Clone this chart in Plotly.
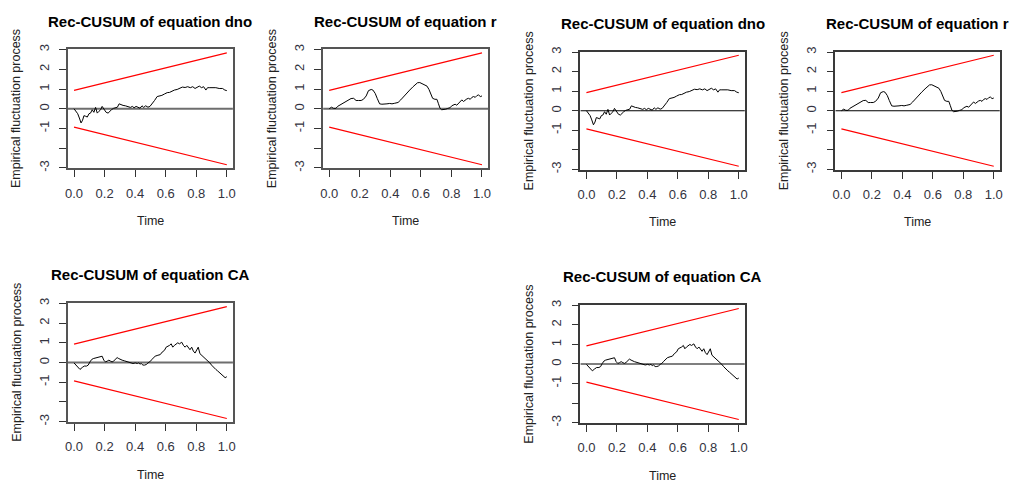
import plotly.graph_objects as go

W, H = 1011, 487

# ---------------- data ----------------
t_dno = [0.0, 0.013, 0.024, 0.035, 0.046, 0.056, 0.065, 0.076, 0.087, 0.098, 0.108, 0.119,
         0.130, 0.141, 0.152, 0.163, 0.174, 0.184, 0.197, 0.210, 0.223, 0.234, 0.245, 0.258,
         0.271, 0.284, 0.295, 0.306, 0.321, 0.336, 0.354, 0.369, 0.382, 0.393, 0.406, 0.419,
         0.432, 0.445, 0.456, 0.469, 0.484, 0.497, 0.510, 0.527, 0.544, 0.560, 0.575, 0.592,
         0.610, 0.625, 0.640, 0.657, 0.675, 0.692, 0.709, 0.727, 0.744, 0.761, 0.777, 0.792,
         0.805, 0.820, 0.835, 0.848, 0.863, 0.874, 0.889, 0.907, 0.928, 0.950, 0.972, 0.987, 1.0]
y_dno = [0.0, -0.13, -0.25, -0.47, -0.72, -0.58, -0.35, -0.38, -0.42, -0.25, -0.22, -0.05,
         -0.18, 0.07, -0.22, -0.13, -0.05, 0.12, -0.02, -0.18, -0.22, -0.12, -0.05, 0.02,
         0.07, 0.08, 0.25, 0.20, 0.17, 0.15, 0.12, 0.07, 0.12, 0.05, 0.12, 0.07,
         0.03, 0.15, 0.07, 0.15, 0.08, 0.12, 0.28, 0.42, 0.62, 0.65, 0.68, 0.75,
         0.82, 0.83, 0.90, 0.95, 0.98, 1.05, 1.10, 1.08, 1.12, 1.07, 1.12, 1.03,
         1.08, 1.15, 1.07, 1.12, 0.95, 1.07, 1.07, 1.08, 1.07, 1.03, 1.03, 0.95, 0.92]

t_r = [0.0, 0.015, 0.029, 0.044, 0.055, 0.077, 0.099, 0.121, 0.143, 0.160, 0.176, 0.191,
       0.209, 0.224, 0.242, 0.257, 0.275, 0.286, 0.301, 0.314, 0.330, 0.345, 0.363, 0.378,
       0.396, 0.411, 0.429, 0.451, 0.468, 0.486, 0.505, 0.527, 0.549, 0.565, 0.578, 0.593,
       0.609, 0.626, 0.640, 0.653, 0.666, 0.677, 0.692, 0.705, 0.714, 0.725, 0.736, 0.749,
       0.763, 0.776, 0.791, 0.802, 0.813, 0.824, 0.835, 0.846, 0.857, 0.868, 0.879, 0.890,
       0.901, 0.912, 0.923, 0.934, 0.945, 0.956, 0.967, 0.978, 0.989, 1.0]
y_r = [0.0, 0.08, 0.02, 0.02, 0.12, 0.23, 0.33, 0.45, 0.52, 0.53, 0.42, 0.42,
       0.42, 0.48, 0.65, 0.92, 0.98, 0.95, 0.78, 0.53, 0.25, 0.23, 0.23, 0.25,
       0.27, 0.25, 0.28, 0.32, 0.45, 0.62, 0.78, 0.95, 1.12, 1.25, 1.32, 1.33,
       1.28, 1.23, 1.15, 0.98, 0.78, 0.53, 0.48, 0.48, 0.28, 0.03, -0.05, -0.05,
       -0.02, 0.02, 0.05, 0.15, 0.18, 0.23, 0.18, 0.28, 0.33, 0.45, 0.37, 0.45,
       0.50, 0.53, 0.48, 0.58, 0.62, 0.58, 0.67, 0.70, 0.62, 0.65]

t_ca = [0.0, 0.013, 0.028, 0.039, 0.054, 0.067, 0.082, 0.093, 0.104, 0.115, 0.126, 0.141,
        0.158, 0.174, 0.184, 0.195, 0.206, 0.217, 0.228, 0.239, 0.249, 0.260, 0.271, 0.282,
        0.293, 0.304, 0.315, 0.332, 0.349, 0.364, 0.386, 0.401, 0.414, 0.423, 0.432, 0.440,
        0.451, 0.462, 0.473, 0.484, 0.495, 0.505, 0.516, 0.531, 0.549, 0.564, 0.577, 0.592,
        0.603, 0.614, 0.625, 0.636, 0.646, 0.657, 0.668, 0.679, 0.690, 0.705, 0.716, 0.727,
        0.738, 0.748, 0.759, 0.770, 0.781, 0.792, 0.803, 0.813, 0.824, 0.835, 0.848, 0.857,
        0.868, 0.879, 0.889, 0.900, 0.913, 0.928, 0.939, 0.954, 0.967, 0.978, 0.989, 1.0]
y_ca = [-0.02, -0.13, -0.27, -0.35, -0.25, -0.18, -0.18, -0.13, 0.03, 0.15, 0.20, 0.23,
        0.23, 0.28, 0.32, 0.12, 0.03, 0.07, 0.12, 0.07, 0.03, 0.08, 0.17, 0.25,
        0.20, 0.15, 0.12, 0.08, 0.03, 0.0, -0.05, -0.02, -0.05, -0.02, -0.08, -0.05,
        -0.13, -0.13, -0.10, -0.02, 0.03, 0.12, 0.20, 0.32, 0.37, 0.40, 0.53, 0.62,
        0.78, 0.82, 0.87, 0.95, 0.78, 0.87, 0.95, 1.00, 0.95, 1.03, 0.87, 0.78,
        0.87, 0.78, 0.65, 0.78, 0.58, 0.48, 0.62, 0.78, 0.45, 0.37, 0.28, 0.23,
        0.17, 0.07, -0.02, -0.13, -0.25, -0.35, -0.42, -0.52, -0.63, -0.72, -0.77, -0.72]

bound_t = [0.0, 1.0]
bound_upper = [0.93, 2.84]
bound_lower = [-0.93, -2.84]

x_tickvals = [0.0, 0.2, 0.4, 0.6, 0.8, 1.0]
x_ticktext = ["0.0", "0.2", "0.4", "0.6", "0.8", "1.0"]
y_tickvals = [3, 2, 1, 0, -1, -2, -3]
y_ticktext = ["3", "2", "1", "0", "-1", "", "-3"]

series = {"dno": (t_dno, y_dno), "r": (t_r, y_r), "CA": (t_ca, y_ca)}

# ---------------- layout of the six panels (pixel boxes) ----------------
left_style = dict(zero_color="#6e6e6e", zero_w=2, box_color="#555555", box_w=1.6)
right_style = dict(zero_color="#000000", zero_w=1.2, box_color="#3a3a3a", box_w=1.6)

panels = [
    ("dno", (65.3, 231.3, 45.0, 166.0), left_style),
    ("r", (322.0, 488.0, 45.0, 166.0), left_style),
    ("CA", (65.3, 231.3, 303.0, 424.0), left_style),
    ("dno", (580.8, 746.3, 47.5, 167.5), right_style),
    ("r", (837.3, 1002.8, 47.5, 167.5), right_style),
    ("CA", (580.8, 746.3, 305.0, 425.0), right_style),
]

FONT = "Liberation Sans, Arial, sans-serif"
fig = go.Figure()
layout = dict(
    width=W, height=H, margin=dict(l=0, r=0, t=0, b=0),
    paper_bgcolor="white", plot_bgcolor="white", showlegend=False,
    font=dict(family=FONT, color="#222222", size=12),
    annotations=[], shapes=[],
)

XR = [-0.04, 1.04]
YR = [-3.02, 3.02]

for i, (name, (x0, x1, y0, y1), st) in enumerate(panels, start=1):
    xa = "x" if i == 1 else f"x{i}"
    ya = "y" if i == 1 else f"y{i}"
    t, v = series[name]
    fig.add_trace(go.Scatter(x=bound_t, y=bound_upper, mode="lines",
                             line=dict(color="#ff0000", width=1.2), xaxis=xa, yaxis=ya))
    fig.add_trace(go.Scatter(x=bound_t, y=bound_lower, mode="lines",
                             line=dict(color="#ff0000", width=1.2), xaxis=xa, yaxis=ya))
    fig.add_trace(go.Scatter(x=XR, y=[0, 0], mode="lines",
                             line=dict(color=st["zero_color"], width=st["zero_w"]),
                             xaxis=xa, yaxis=ya))
    fig.add_trace(go.Scatter(x=t, y=v, mode="lines",
                             line=dict(color="#000000", width=1), xaxis=xa, yaxis=ya))

    dx = [x0 / W, x1 / W]
    dy = [1 - y1 / H, 1 - y0 / H]
    axcommon = dict(showgrid=False, zeroline=False, showline=True, mirror=True,
                    linecolor=st["box_color"], linewidth=st["box_w"],
                    ticks="outside", ticklen=7, tickwidth=1, tickcolor="#333333",
                    tickfont=dict(family=FONT, size=13, color="#333340"))
    layout["xaxis" if i == 1 else f"xaxis{i}"] = dict(
        domain=dx, range=XR, anchor=ya, tickmode="array",
        tickvals=x_tickvals, ticktext=x_ticktext, ticklabelstandoff=5, **axcommon)
    layout["yaxis" if i == 1 else f"yaxis{i}"] = dict(
        domain=dy, range=YR, anchor=xa, tickmode="array",
        tickvals=y_tickvals, ticktext=y_ticktext, tickangle=-90,
        ticklabelstandoff=5, **axcommon)

    cx = (x0 + x1) / 2
    # title
    layout["annotations"].append(dict(
        text=f"<b>Rec-CUSUM of equation {name}</b>", x=cx / W, y=1 - (y0 - 28.5) / H,
        xref="paper", yref="paper", xanchor="center", yanchor="middle",
        showarrow=False, font=dict(family=FONT, size=15, color="#000000")))
    # x-axis title
    layout["annotations"].append(dict(
        text="Time", x=cx / W, y=1 - (y1 + 53.5) / H,
        xref="paper", yref="paper", xanchor="center", yanchor="middle",
        showarrow=False, font=dict(family=FONT, size=12.5, color="#222222")))
    # y-axis title
    layout["annotations"].append(dict(
        text="Empirical fluctuation process", x=(x0 - 52) / W, y=1 - ((y0 + y1) / 2) / H,
        xref="paper", yref="paper", xanchor="center", yanchor="middle", textangle=-90,
        showarrow=False, font=dict(family=FONT, size=12.5, color="#222222")))

fig.update_layout(**layout)
fig.write_html("out.html")
